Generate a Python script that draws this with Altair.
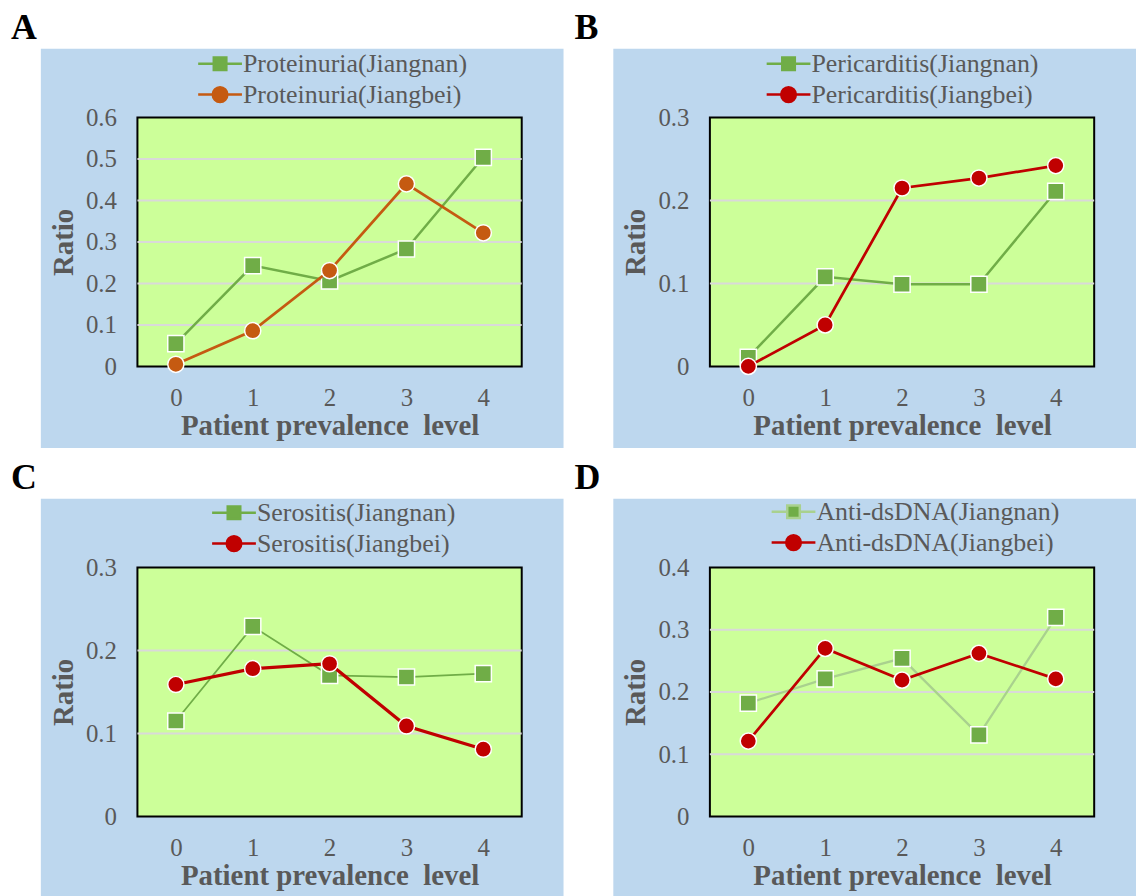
import altair as alt
import pandas as pd

levels = ["0", "1", "2", "3", "4"]

A_names = ["Proteinuria(Jiangnan)", "Proteinuria(Jiangbei)"]
A_nan = [0.055, 0.243, 0.206, 0.283, 0.504]
A_bei = [0.005, 0.086, 0.231, 0.440, 0.322]
A_ticks = [0, 0.1, 0.2, 0.3, 0.4, 0.5, 0.6]

B_names = ["Pericarditis(Jiangnan)", "Pericarditis(Jiangbei)"]
B_nan = [0.011, 0.108, 0.099, 0.099, 0.211]
B_bei = [0.000, 0.050, 0.215, 0.227, 0.242]
B_ticks = [0, 0.1, 0.2, 0.3]

C_names = ["Serositis(Jiangnan)", "Serositis(Jiangbei)"]
C_nan = [0.115, 0.229, 0.170, 0.168, 0.172]
C_bei = [0.159, 0.178, 0.184, 0.109, 0.081]
C_ticks = [0, 0.1, 0.2, 0.3]

D_names = ["Anti-dsDNA(Jiangnan)", "Anti-dsDNA(Jiangbei)"]
D_nan = [0.182, 0.221, 0.254, 0.131, 0.320]
D_bei = [0.121, 0.270, 0.219, 0.262, 0.221]
D_ticks = [0, 0.1, 0.2, 0.3, 0.4]

X_TITLE = "Patient prevalence\u00a0\u00a0level"

W, H = 386, 250
FONT = "Liberation Serif"
GRAY = "#595959"
BLUE = "#BDD7EE"
PLOT = "#CCFF99"
GREEN = "#70AD47"
RED = "#C00000"
BROWN = "#C55A11"

SQ_PATH = "M-3.14,0L-0.9,0M0.9,0L3.14,0M-0.9,-0.9L0.9,-0.9L0.9,0.9L-0.9,0.9Z"
CI_PATH = ("M-3.14,0L-1.05,0M1.05,0L3.14,0M1.05,0"
           "A1.05,1.05,0,1,1,-1.05,0A1.05,1.05,0,1,1,1.05,0Z")


def panel(letter, letter_x, names, nan, bei, ticks, bei_color, nan_line, nan_w, bei_w, leg_xy):
    df = pd.DataFrame({
        "level": levels * 2,
        "value": nan + bei,
        "series": [names[0]] * 5 + [names[1]] * 5,
    })
    one = alt.Data(values=[{"k": 1}])
    xenc = alt.X(
        "level:O",
        scale=alt.Scale(type="point", domain=levels, padding=0.5),
        axis=alt.Axis(
            title=X_TITLE, labelAngle=0, labelFont=FONT,
            labelFontSize=25, labelColor=GRAY, titleFont=FONT, titleFontSize=29,
            titleFontWeight="bold", titleColor=GRAY, domain=False, ticks=False,
            tickSize=0, grid=False, labelPadding=19, titlePadding=1, zindex=1,
        ),
    )
    yenc = alt.Y(
        "value:Q",
        scale=alt.Scale(domain=[0, ticks[-1]], nice=False, zero=True),
        axis=alt.Axis(
            title="Ratio", values=ticks, format=".1~f", labelFont=FONT,
            labelFontSize=25, labelColor=GRAY, titleFont=FONT, titleFontSize=29,
            titleFontWeight="bold", titleColor=GRAY, domain=False, ticks=False,
            tickSize=0, grid=False, labelPadding=21, titlePadding=7, zindex=1,
        ),
    )
    blue = alt.Chart(one).mark_rect(color=BLUE).encode(
        x=alt.value(-97), x2=alt.value(W + 42), y=alt.value(-69), y2=alt.value(H + 82)
    )
    green = alt.Chart(one).mark_rect(color=PLOT, stroke="black", strokeWidth=2).encode(
        x=alt.value(0), x2=alt.value(W), y=alt.value(0), y2=alt.value(H)
    )
    lab = alt.Chart(one).mark_text(
        text=letter, font=FONT, fontSize=36, fontWeight="bold", color="black",
        align="left", baseline="top",
    ).encode(x=alt.value(letter_x), y=alt.value(-107))
    gdf = pd.DataFrame({"value": ticks[1:-1]})
    grid = alt.Chart(gdf).mark_rule(color="#D9D9D9", strokeWidth=2).encode(
        y=yenc, x=alt.value(0), x2=alt.value(W)
    )
    d_nan = df[df.series == names[0]]
    d_bei = df[df.series == names[1]]
    ln1 = alt.Chart(d_nan).mark_line(color=nan_line, strokeWidth=nan_w).encode(x=xenc, y=yenc)
    pt1 = alt.Chart(d_nan).mark_point(
        filled=True, shape="square", size=265, color=GREEN, stroke="white",
        strokeWidth=1.5, opacity=1,
    ).encode(x=xenc, y=yenc)
    ln2 = alt.Chart(d_bei).mark_line(color=bei_color, strokeWidth=bei_w).encode(x=xenc, y=yenc)
    pt2 = alt.Chart(d_bei).mark_point(
        filled=True, shape="circle", size=265, color=bei_color, stroke="white",
        strokeWidth=1.5, opacity=1,
    ).encode(x=xenc, y=yenc)
    legend = alt.Legend(
        title=None, orient="none", legendX=leg_xy[0], legendY=leg_xy[1],
        direction="vertical", labelFont=FONT, labelFontSize=26, labelColor=GRAY,
        labelOffset=10, rowPadding=5, padding=0, labelLimit=500,
        symbolSize=196, symbolStrokeWidth=2.5, symbolOpacity=1, zindex=1,
    )
    leg = alt.Chart(df).transform_filter("false").mark_point(
        filled=True, opacity=1, size=196
    ).encode(
        shape=alt.Shape("series:N", scale=alt.Scale(domain=names, range=[SQ_PATH, CI_PATH]), legend=legend),
        fill=alt.Fill("series:N", scale=alt.Scale(domain=names, range=[GREEN, bei_color]), legend=legend),
        stroke=alt.Stroke("series:N", scale=alt.Scale(domain=names, range=[nan_line, bei_color]), legend=legend),
    )
    return alt.layer(blue, green, grid, lab, ln1, pt1, ln2, pt2, leg).properties(width=W, height=H)


pA = panel("A", -127, A_names, A_nan, A_bei, A_ticks, BROWN, GREEN, 2.5, 2.75, (70, -67))
pB = panel("B", -136, B_names, B_nan, B_bei, B_ticks, RED, GREEN, 2.5, 2.75, (66, -67))
pC = panel("C", -127, C_names, C_nan, C_bei, C_ticks, RED, GREEN, 1.75, 3.25, (84, -68))
pD = panel("D", -136, D_names, D_nan, D_bei, D_ticks, RED, "#A9D18E", 2.25, 2.75, (71, -69))

res = dict(x="independent", y="independent", shape="independent", fill="independent", stroke="independent")
row1 = alt.hconcat(pA, pB, spacing=11).resolve_scale(**res).resolve_legend(shape="independent", fill="independent", stroke="independent")
row2 = alt.hconcat(pC, pD, spacing=11).resolve_scale(**res).resolve_legend(shape="independent", fill="independent", stroke="independent")
chart = alt.vconcat(row1, row2, spacing=12).resolve_scale(**res).resolve_legend(
    shape="independent", fill="independent", stroke="independent"
).properties(
    padding={"left": 3, "top": 0, "right": 0, "bottom": 0}, background="white"
).configure_view(strokeWidth=0)

chart.save("out.html", embed_options={"renderer": "svg", "actions": False})
